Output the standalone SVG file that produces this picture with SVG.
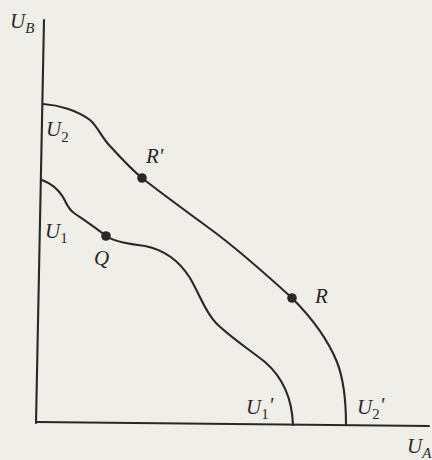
<svg xmlns="http://www.w3.org/2000/svg" width="432" height="460" viewBox="0 0 432 460">
<style>
.ln{fill:none;stroke:#2a2826;stroke-width:2.1;stroke-linecap:round;stroke-linejoin:round}
.pt{fill:#2a2826}
.lb{font-family:"Liberation Serif","Times New Roman",serif;font-style:italic;font-size:21px;fill:#2a2826}
.sb{font-size:15px;font-style:normal}
.si{font-size:15px}
</style>
<rect width="432" height="460" fill="#f0eee9"/>
<g id="axes">
<line class="ln" x1="44" y1="20" x2="36" y2="423"/>
<line class="ln" x1="36" y1="422" x2="429" y2="426"/>
<text class="lb" x="10" y="28">U<tspan class="si" dy="5">B</tspan></text>
<text class="lb" x="407" y="453">U<tspan class="si" dy="5">A</tspan></text>
</g>
<g id="connectors">
<path id="curve-U1" class="ln" d="M42,180 C50,183 58,189 63,197 C67,204 68,209 74,213 C84,220 96,228 106,236 C115,242 130,244 145,246 C165,250 180,262 190,278 C200,295 205,312 216,323 C230,337 250,350 265,362 C280,375 292,395 293,425"/>
<path id="curve-U2" class="ln" d="M43,104 C60,105 78,111 90,120 C98,127 102,138 110,146 C120,157 130,168 142,178 C165,196 190,214 213,231 C240,251 270,278 292,298 C310,316 328,340 337,362 C344,380 346,400 346,425"/>
</g>
<g id="U2"><text class="lb" x="46" y="136">U<tspan class="sb" dy="6">2</tspan></text></g>
<g id="U1"><text class="lb" x="45" y="238">U<tspan class="sb" dy="5">1</tspan></text></g>
<g id="Rp"><circle class="pt" cx="142" cy="178" r="4.8"/><text class="lb" x="146" y="163">R'</text></g>
<g id="Q"><circle class="pt" cx="106" cy="236" r="4.8"/><text class="lb" x="94" y="265">Q</text></g>
<g id="R"><circle class="pt" cx="292" cy="298" r="4.8"/><text class="lb" x="315" y="303">R</text></g>
<g id="U1p"><text class="lb" x="246" y="414">U<tspan class="sb" dy="5">1</tspan><tspan dy="-7">'</tspan></text></g>
<g id="U2p"><text class="lb" x="357" y="414">U<tspan class="sb" dy="5">2</tspan><tspan dy="-7">'</tspan></text></g>
</svg>
